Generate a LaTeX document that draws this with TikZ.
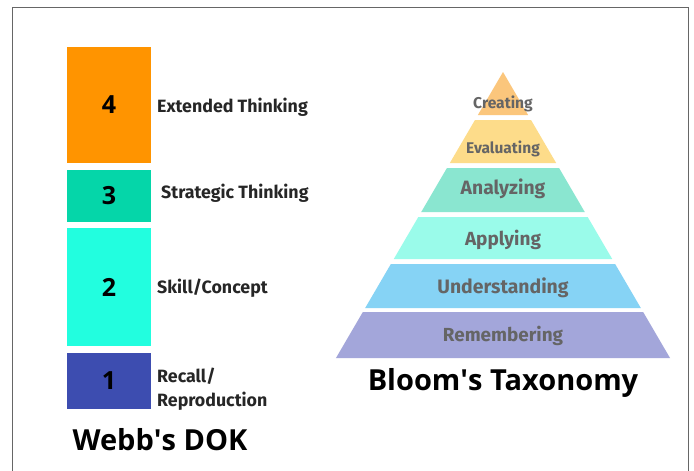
\documentclass[tikz,border=0pt]{standalone}
\usepackage{fontspec}
\setmainfont{Open Sans}
\newfontfamily\labfont{Fira Sans}
\definecolor{dokfour}{HTML}{FF9400}
\definecolor{dokthree}{HTML}{05D6A9}
\definecolor{doktwo}{HTML}{22FEDF}
\definecolor{dokone}{HTML}{3D4DB0}
\definecolor{bcreate}{HTML}{FBC67C}
\definecolor{beval}{HTML}{FDDC8A}
\definecolor{banal}{HTML}{8AE6D0}
\definecolor{bapply}{HTML}{9AFBEA}
\definecolor{bunder}{HTML}{86D3F5}
\definecolor{bremem}{HTML}{A3A6DA}
\definecolor{laygray}{HTML}{656565}
\begin{document}
\begin{tikzpicture}[x=1pt,y=-1pt,
  bar/.style={inner sep=0pt, minimum width=84pt, font=\fontsize{25}{25}\selectfont\bfseries},
  dok/.style={anchor=west, inner sep=0pt, font=\labfont\bfseries\fontsize{17.8}{24}\selectfont, text=black!85, align=left},
  layer/.style={inner sep=0pt, text=laygray},
  title/.style={inner sep=0pt, font=\fontsize{29}{32}\selectfont\bfseries}]
\useasboundingbox (0,0) rectangle (694,471);
\fill[white] (0,0) rectangle (694,471);
% frame, open at the bottom
\draw[gray!80!black, line width=0.9pt] (12,475) -- (12,7) -- (688,7) -- (688,475);

% Webb's DOK levels
\node[bar, fill=dokfour,  minimum height=116pt] (b4) at (109,105) {4};
\node[bar, fill=dokthree, minimum height=52pt]  (b3) at (109,196) {3};
\node[bar, fill=doktwo,   minimum height=118pt] (b2) at (109,287) {2};
\node[bar, fill=dokone,   minimum height=56pt]  (b1) at (109,381) {1};
\node[dok] (l4) at (157,107) {Extended Thinking};
\node[dok] (l3) at (161,193) {Strategic Thinking};
\node[dok] (l2) at (157,288) {Skill/Concept};
\node[dok] (l1) at (157,389) {Recall/\\Reproduction};
\node[title] (webb) at (160,440) {Webb\textquotesingle s DOK};

% Bloom's pyramid, sliced into six bands
\foreach \t/\b/\c in {72/115/bcreate,120/163/beval,168/212/banal,217/259/bapply,264/308/bunder,312/358/bremem}
  \fill[\c] ({503-0.584*(\t-72)},\t) -- ({503+0.584*(\t-72)},\t)
     -- ({503+0.584*(\b-72)},\b) -- ({503-0.584*(\b-72)},\b) -- cycle;
\node[layer, font=\labfont\bfseries\fontsize{15.6}{17}\selectfont] (cr) at (503,104) {Creating};
\node[layer, font=\labfont\bfseries\fontsize{15.5}{17}\selectfont] (ev) at (503,149) {Evaluating};
\node[layer, font=\labfont\bfseries\fontsize{19.3}{21}\selectfont] (an) at (503,189) {Analyzing};
\node[layer, font=\labfont\bfseries\fontsize{19}{21}\selectfont] (ap) at (503,240) {Applying};
\node[layer, font=\labfont\bfseries\fontsize{19.4}{21}\selectfont] (un) at (503,288) {Understanding};
\node[layer, font=\labfont\bfseries\fontsize{18.9}{21}\selectfont] (re) at (503,336) {Remembering};
\node[title] (bloom) at (503,383) {Bloom\textquotesingle s Taxonomy};
\end{tikzpicture}
\end{document}
